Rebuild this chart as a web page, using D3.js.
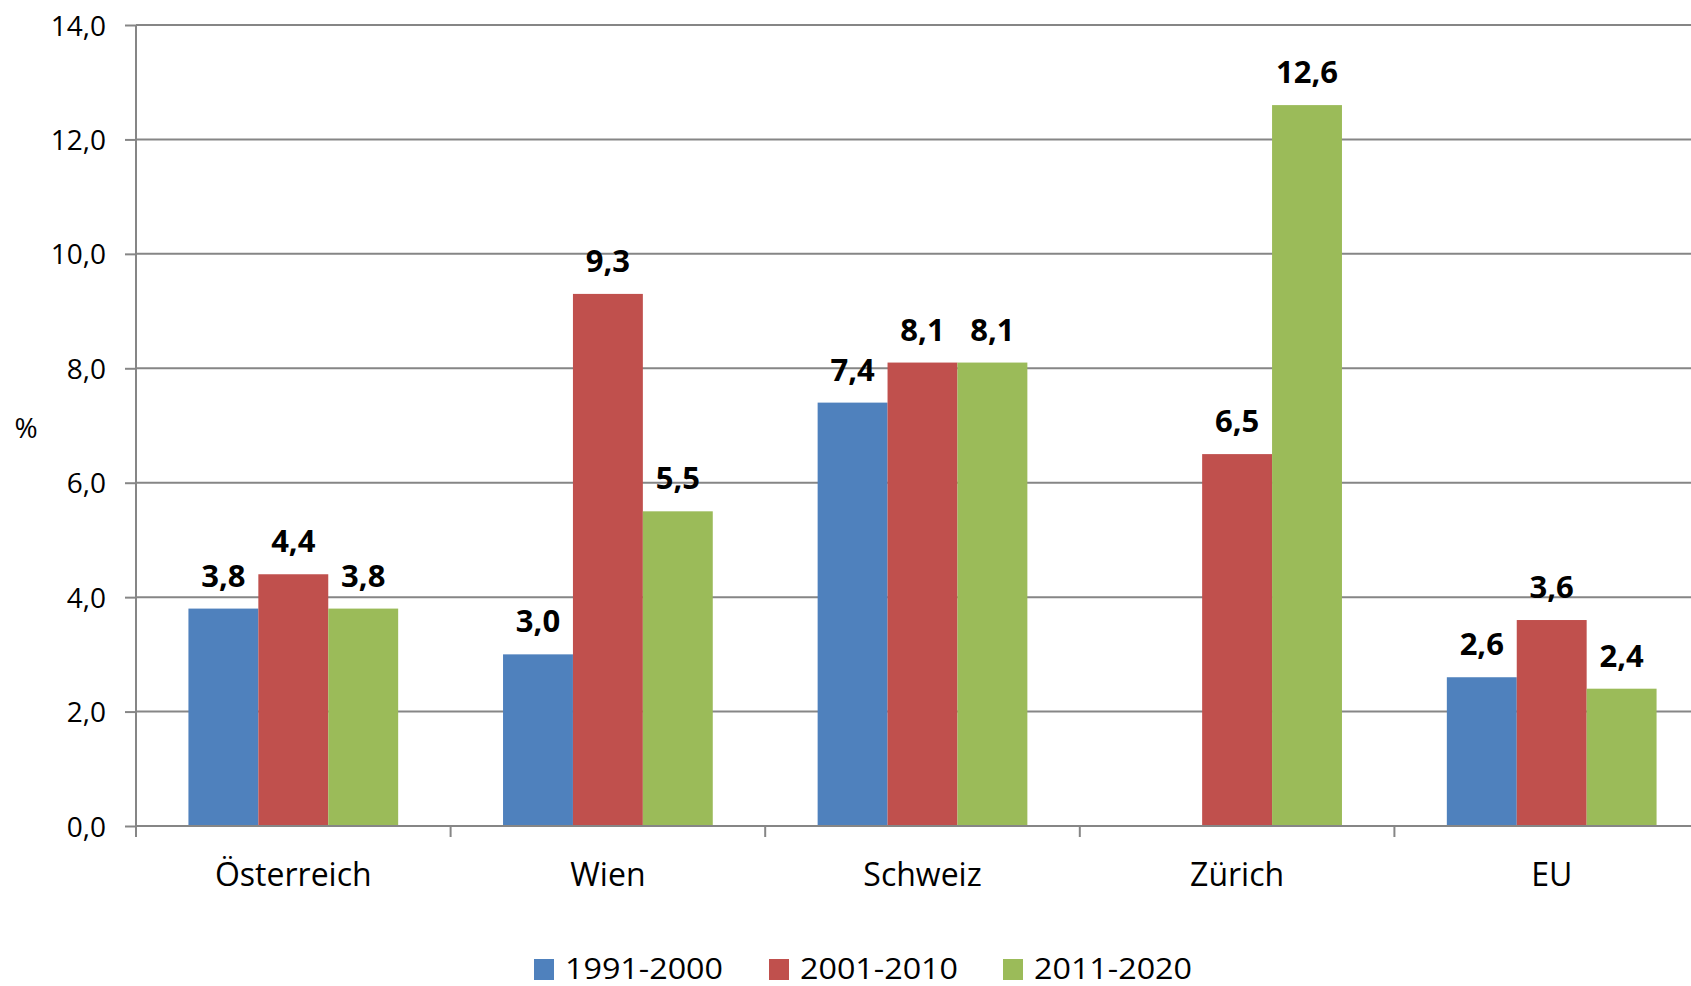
<!DOCTYPE html>
<html>
<head>
<meta charset="utf-8">
<script src="https://cdn.jsdelivr.net/npm/d3@7"></script>
<style>
  body { margin: 0; background: #fff; }
  text { font-family: "Open Sans", sans-serif; fill: #000; }
</style>
</head>
<body>
<script>
// Chart size
var width = 1691;
var height = 986;

// Data
var categories = ["Österreich", "Wien", "Schweiz", "Zürich", "EU"];
var series = ["1991-2000", "2001-2010", "2011-2020"];
var values1991 = [3.8, 3.0, 7.4, null, 2.6];
var values2001 = [4.4, 9.3, 8.1, 6.5, 3.6];
var values2011 = [3.8, 5.5, 8.1, 12.6, 2.4];
var yTicks = [0, 2, 4, 6, 8, 10, 12, 14];
var colors = ["#4F81BD", "#C0504D", "#9BBB59"];

var allValues = [values1991, values2001, values2011];

// Plot area (right side of the original chart is cut off)
var plotLeft = 136, plotRight = 1709, plotTop = 25, plotBottom = 826;

var svg = d3.select("body")
            .append("svg")
            .attr("width", width)
            .attr("height", height);

var x = d3.scaleBand().domain(categories).range([plotLeft, plotRight]).padding(0);
var xInner = d3.scaleBand().domain(series).range([0, x.bandwidth()])
               .paddingInner(0).paddingOuter(0.75);
var y = d3.scaleLinear().domain([0, 14]).range([plotBottom, plotTop]);

var fmt = function(d) { return d3.format(".1f")(d).replace(".", ","); };

// Horizontal gridlines
svg.selectAll("line.grid")
    .data(yTicks.slice(1))
    .enter()
    .append("line")
    .attr("class", "grid")
    .attr("x1", plotLeft)
    .attr("x2", plotRight)
    .attr("y1", function(d) { return y(d); })
    .attr("y2", function(d) { return y(d); })
    .style("stroke", "#868686")
    .style("stroke-width", 2);

// Bars
series.forEach(function(s, si) {
    var rows = categories.map(function(c, ci) { return {cat: c, v: allValues[si][ci]}; })
                         .filter(function(d) { return d.v != null; });

    svg.selectAll("rect.s" + si)
        .data(rows)
        .enter()
        .append("rect")
        .attr("class", "s" + si)
        .attr("x", function(d) { return x(d.cat) + xInner(s); })
        .attr("y", function(d) { return y(d.v); })
        .attr("width", xInner.bandwidth())
        .attr("height", function(d) { return y(0) - y(d.v); })
        .style("fill", colors[si]);

    svg.selectAll("text.l" + si)
        .data(rows)
        .enter()
        .append("text")
        .attr("class", "l" + si)
        .attr("x", function(d) { return x(d.cat) + xInner(s) + xInner.bandwidth() / 2; })
        .attr("y", function(d) { return y(d.v) - 22; })
        .attr("text-anchor", "middle")
        .style("font-size", "31px")
        .style("font-weight", "bold")
        .text(function(d) { return fmt(d.v); });
});

// Y axis
var yAxis = d3.axisLeft(y).tickValues(yTicks).tickSize(11).tickPadding(19).tickFormat(fmt);
var gy = svg.append("g").attr("transform", "translate(" + plotLeft + ",0)").call(yAxis);
gy.select(".domain").remove();
gy.append("line").attr("y1", plotTop).attr("y2", plotBottom)
    .style("stroke", "#868686").style("stroke-width", 2);
gy.selectAll(".tick line").style("stroke", "#868686").style("stroke-width", 2);
gy.selectAll(".tick text")
    .attr("dy", null)
    .attr("y", 10)
    .style("font-size", "28px")
    .style("font-family", "'Open Sans', sans-serif")
    .style("fill", "#000");

// X axis
svg.append("line")
    .attr("x1", plotLeft).attr("x2", plotRight)
    .attr("y1", plotBottom).attr("y2", plotBottom)
    .style("stroke", "#868686").style("stroke-width", 2);

var boundaries = categories.map(function(c) { return x(c); }).concat([plotRight]);
svg.selectAll("line.xtick")
    .data(boundaries)
    .enter()
    .append("line")
    .attr("class", "xtick")
    .attr("x1", function(d) { return d; })
    .attr("x2", function(d) { return d; })
    .attr("y1", plotBottom)
    .attr("y2", plotBottom + 11)
    .style("stroke", "#868686")
    .style("stroke-width", 2);

svg.selectAll("text.xlabel")
    .data(categories)
    .enter()
    .append("text")
    .attr("class", "xlabel")
    .attr("x", function(d) { return x(d) + x.bandwidth() / 2; })
    .attr("y", 886)
    .attr("text-anchor", "middle")
    .style("font-size", "32px")
    .text(function(d) { return d; });

// Y unit label
svg.append("text")
    .attr("x", 26)
    .attr("y", 438)
    .attr("text-anchor", "middle")
    .style("font-size", "28px")
    .text("%");

// Legend
var legendX = [534, 769, 1003];
var legend = svg.selectAll("g.legend")
                .data(series)
                .enter()
                .append("g")
                .attr("class", "legend")
                .attr("transform", function(d, i) { return "translate(" + legendX[i] + ",959)"; });

legend.append("rect")
    .attr("width", 20)
    .attr("height", 21)
    .style("fill", function(d, i) { return colors[i]; });

legend.append("text")
    .attr("x", 31)
    .attr("y", 20)
    .attr("textLength", 158)
    .attr("lengthAdjust", "spacingAndGlyphs")
    .style("font-size", "29px")
    .text(function(d) { return d; });
</script>
</body>
</html>
